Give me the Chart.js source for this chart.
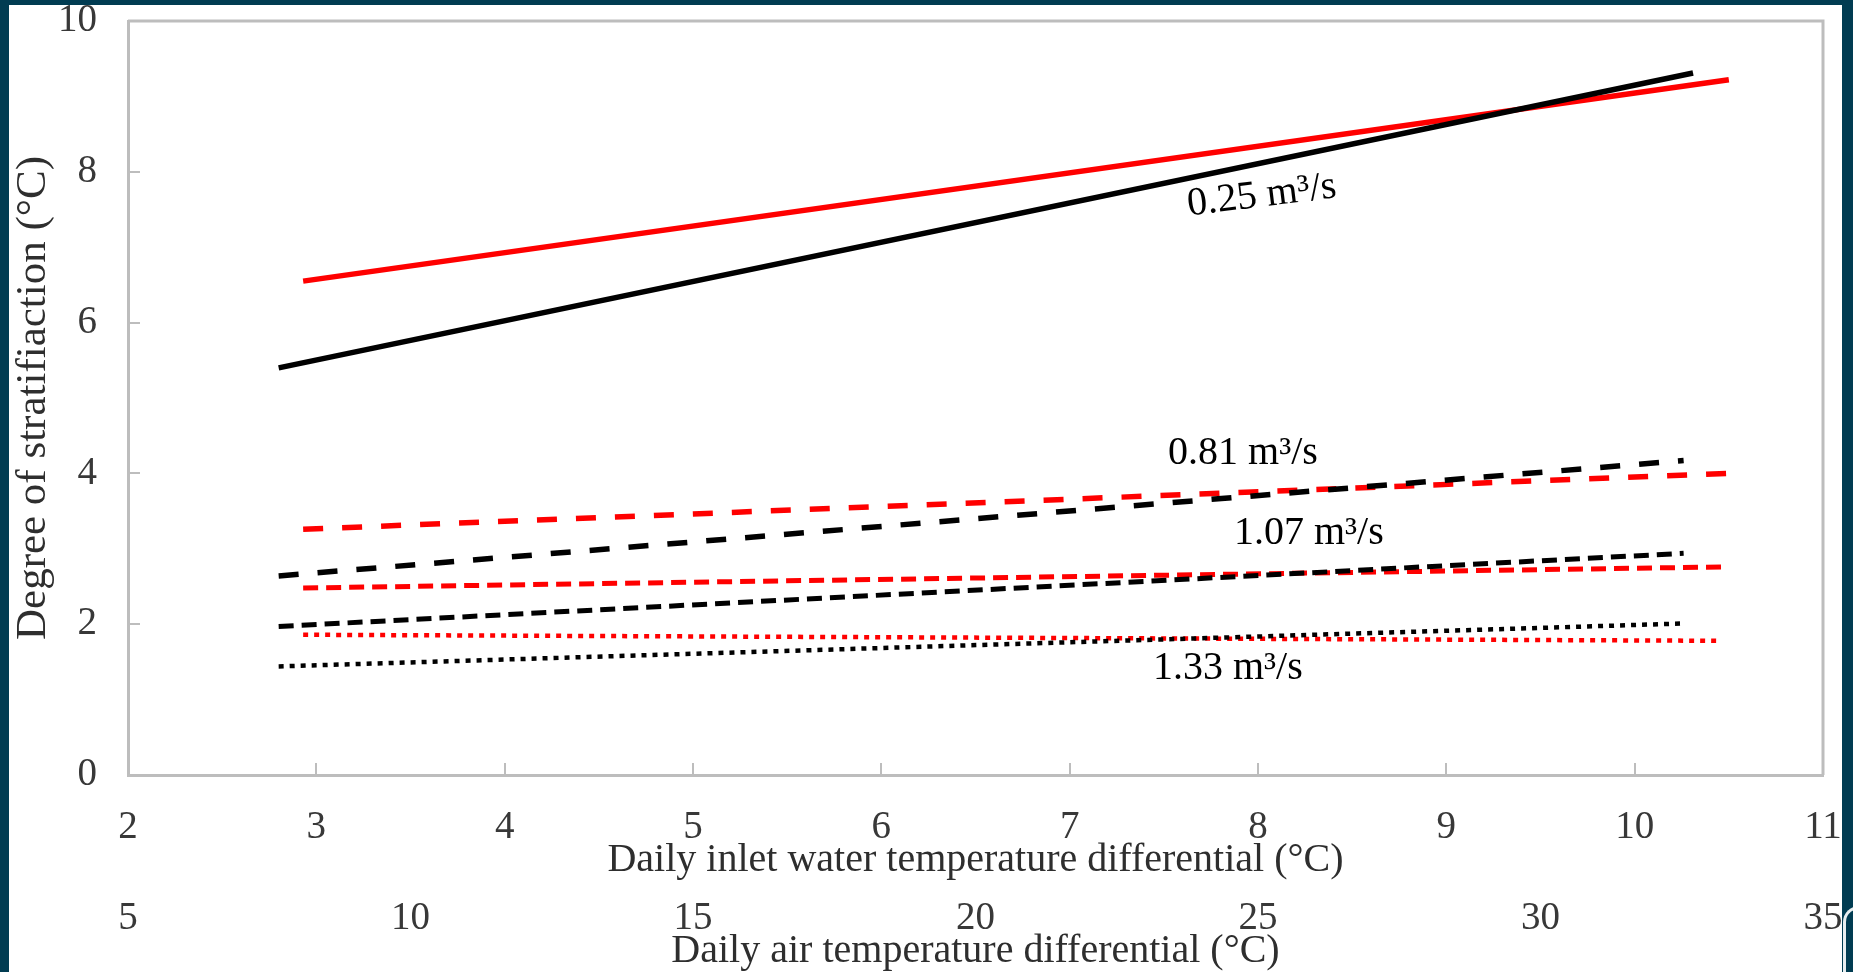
<!DOCTYPE html>
<html>
<head>
    <script src="https://cdn.jsdelivr.net/npm/chart.js@4"></script>
    <style>
        body { margin: 0; background: #013c52; overflow: hidden; }
        #paper { position: absolute; left: 9px; top: 5px; width: 1833px; height: 967px; background: #fff; }
        #wrap { position: absolute; left: 0; top: 0; width: 1853px; height: 972px; }
        #curl { position: absolute; left: 1843px; top: 906px; width: 20px; height: 70px;
                border-left: 3px solid #e8eef0; border-top: 3px solid #e8eef0; border-top-left-radius: 16px; }
    </style>
</head>
<body>
    <div id="paper"></div>
    <div id="curl"></div>
    <div id="wrap"><canvas id="myChart"></canvas></div>
    <script>
        // flow rates, one black (model) and one red line each
        const flows = ['0.25', '0.81', '1.07', '1.33'];
        const blackX0 = [2.80, 2.80, 2.80, 2.80];
        const blackX1 = [10.31, 10.26, 10.26, 10.27];
        const blackY0 = [5.40, 2.64, 1.97, 1.44];
        const blackY1 = [9.31, 4.17, 2.94, 2.01];
        const redX0 = [2.93, 2.93, 2.93, 2.93];
        const redX1 = [10.50, 10.49, 10.48, 10.44];
        const redY0 = [6.55, 3.26, 2.48, 1.86];
        const redY1 = [9.22, 4.00, 2.76, 1.78];

        // label positions (data coords) for the flow names
        const labelX = [8.02, 7.92, 8.27, 7.84];
        const labelY = [7.68, 4.27, 3.20, 1.41];
        const labelRot = [-7, 0, 0, 0];

        const dashes = [[], [20, 19], [15, 8], [5, 6]];
        const widths = [5.5, 5.5, 5, 4.5];

        const datasets = [];
        for (let i = 0; i < flows.length; i++) {
            datasets.push({
                label: flows[i] + ' black',
                data: [{x: blackX0[i], y: blackY0[i]}, {x: blackX1[i], y: blackY1[i]}],
                borderColor: '#000000',
                borderWidth: widths[i],
                borderDash: dashes[i],
                pointRadius: 0
            });
            datasets.push({
                label: flows[i] + ' red',
                data: [{x: redX0[i], y: redY0[i]}, {x: redX1[i], y: redY1[i]}],
                borderColor: '#ff0000',
                borderWidth: widths[i],
                borderDash: dashes[i],
                pointRadius: 0
            });
        }

        // keep the tick padding from pushing the plot area in
        function noPad(scale) {
            scale.paddingLeft = 0;
            scale.paddingRight = 0;
            scale.paddingTop = 0;
            scale.paddingBottom = 0;
        }

        const frame = {
            id: 'frame',
            afterDraw(chart) {
                const a = chart.chartArea;
                const ctx = chart.ctx;
                ctx.save();
                ctx.strokeStyle = '#bdbdbd';
                ctx.lineWidth = 3;
                ctx.beginPath();
                ctx.moveTo(a.left, a.top);
                ctx.lineTo(a.right, a.top);
                ctx.lineTo(a.right, a.bottom);
                ctx.stroke();
                ctx.restore();
            }
        };

        const flowLabels = {
            id: 'flowLabels',
            afterDatasetsDraw(chart) {
                const ctx = chart.ctx;
                const sx = chart.scales.x, sy = chart.scales.y;
                ctx.save();
                ctx.fillStyle = '#000';
                ctx.font = '40px "Liberation Serif"';
                ctx.textAlign = 'center';
                ctx.textBaseline = 'middle';
                for (let i = 0; i < flows.length; i++) {
                    ctx.save();
                    ctx.translate(sx.getPixelForValue(labelX[i]), sy.getPixelForValue(labelY[i]));
                    ctx.rotate(labelRot[i] * Math.PI / 180);
                    ctx.fillText(flows[i] + ' m\u00b3/s', 0, 0);
                    ctx.restore();
                }
                ctx.restore();
            }
        };

        const serif = '"Liberation Serif", "Times New Roman", serif';
        const ctx = document.getElementById('myChart');
        new Chart(ctx, {
            type: 'line',
            data: { datasets: datasets },
            options: {
                responsive: true,
                maintainAspectRatio: false,
                animation: false,
                layout: { padding: { left: 0, top: 21, right: 30, bottom: 0 } },
                plugins: {
                    legend: { display: false },
                    tooltip: { enabled: false }
                },
                scales: {
                    x: {
                        type: 'linear',
                        position: 'bottom',
                        min: 2, max: 11,
                        afterFit(scale) { scale.height = 105; noPad(scale); },
                        ticks: { stepSize: 1, color: '#383838', padding: 45, autoSkip: false,
                                 font: { family: serif, size: 39, lineHeight: 1 } },
                        grid: { drawOnChartArea: false, drawTicks: true, tickLength: -12, color: '#bdbdbd', lineWidth: 2 },
                        border: { color: '#bdbdbd', width: 3 },
                        title: { display: true, text: 'Daily inlet water temperature differential (\u00b0C)',
                                 color: '#2e2e2e', padding: { top: 0, bottom: 0 },
                                 font: { family: serif, size: 40, lineHeight: 1 } }
                    },
                    x2: {
                        type: 'linear',
                        position: 'bottom',
                        min: 5, max: 35,
                        afterFit(scale) { scale.height = 92; noPad(scale); },
                        ticks: { stepSize: 5, color: '#383838', padding: 11, autoSkip: false,
                                 font: { family: serif, size: 39, lineHeight: 1 } },
                        grid: { display: false },
                        border: { display: false },
                        title: { display: true, text: 'Daily air temperature differential (\u00b0C)',
                                 color: '#2e2e2e', padding: { top: 0, bottom: 1 },
                                 font: { family: serif, size: 40, lineHeight: 1 } }
                    },
                    y: {
                        type: 'linear',
                        min: 0, max: 10,
                        afterFit(scale) { scale.width = 128; noPad(scale); },
                        ticks: { stepSize: 2, color: '#383838', padding: 43,
                                 font: { family: serif, size: 39, lineHeight: 1 } },
                        grid: { drawOnChartArea: false, drawTicks: true, tickLength: -12, color: '#bdbdbd', lineWidth: 2 },
                        border: { color: '#bdbdbd', width: 3 },
                        title: { display: true, text: 'Degree of stratifiaction (\u00b0C)',
                                 color: '#2e2e2e', padding: { top: 12, bottom: 0 },
                                 font: { family: serif, size: 43, lineHeight: 1 } }
                    }
                }
            },
            plugins: [frame, flowLabels]
        });
    </script>
</body>
</html>
